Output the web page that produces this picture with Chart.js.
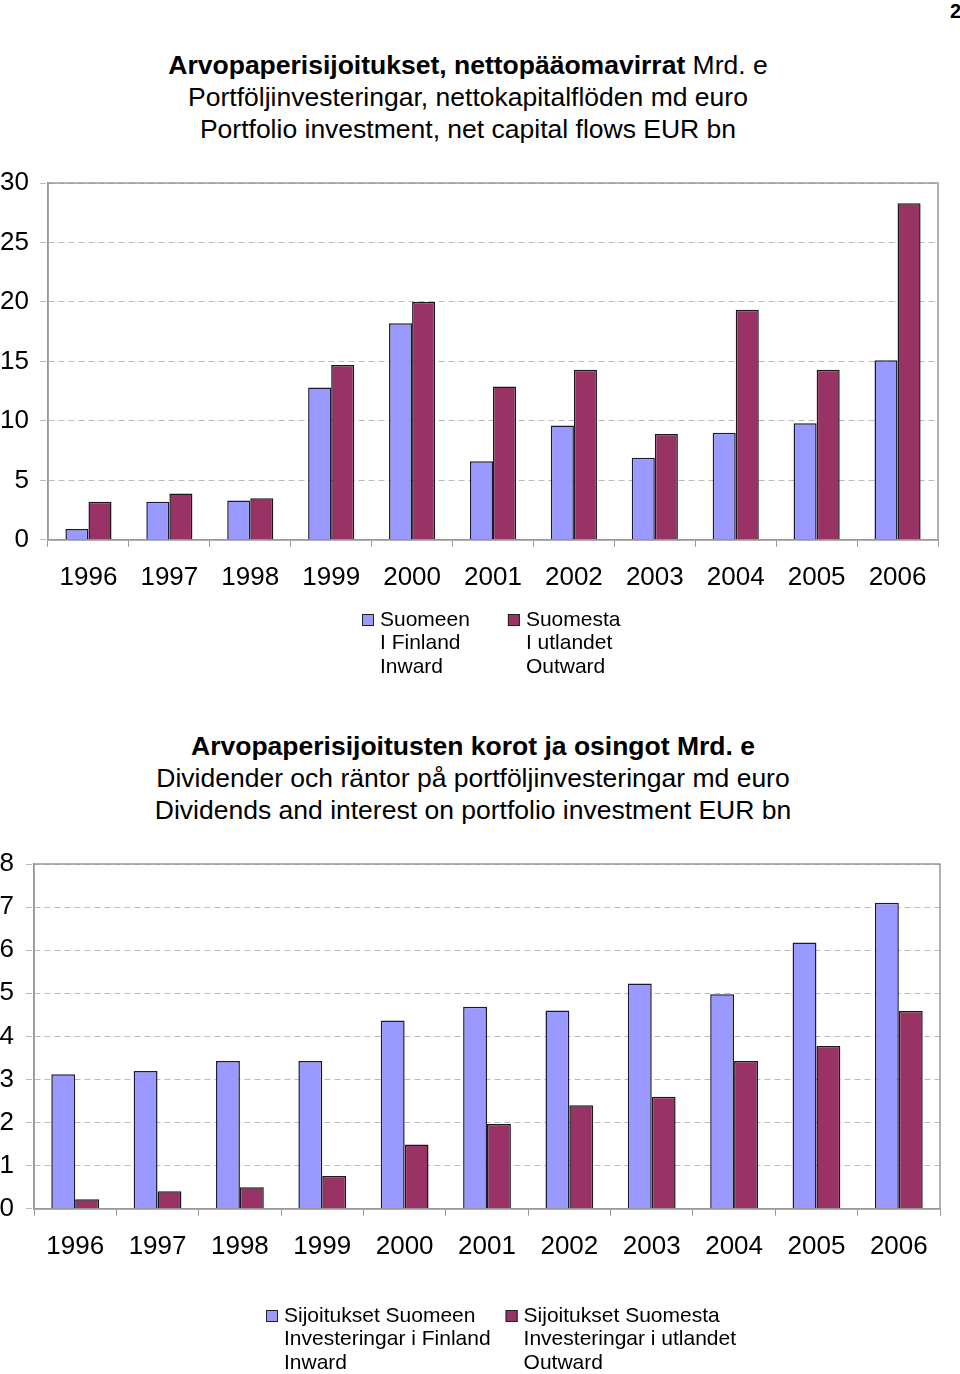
<!DOCTYPE html>
<html>
<head>
<meta charset="utf-8">
<script src="https://cdn.jsdelivr.net/npm/chart.js@4.4.0/dist/chart.umd.min.js"></script>
<style>
  body { margin: 0; background: #fff; width: 960px; height: 1374px; position: relative; overflow: hidden;
         font-family: "Liberation Sans", Arial, sans-serif; }
  .title { position: absolute; left: 0; text-align: center; font-size: 26.5px; line-height: 32px; color: #000; }
  .title b { font-weight: bold; }
  canvas { position: absolute; left: 0; }
  #pageNo { position: absolute; left: 950px; top: 0; font-size: 20px; font-weight: bold; }
</style>
</head>
<body>
<div id="pageNo">2</div>
<div class="title" style="top:49px; width:936px;">
  <b>Arvopaperisijoitukset, nettopääomavirrat</b> Mrd. e<br>
  Portföljinvesteringar, nettokapitalflöden md euro<br>
  Portfolio investment, net capital flows EUR bn
</div>
<canvas id="flowsChart" width="960" height="545" style="top:150px"></canvas>

<div class="title" style="top:730px; width:946px;">
  <b>Arvopaperisijoitusten korot ja osingot Mrd. e</b><br>
  Dividender och räntor på portföljinvesteringar md euro<br>
  Dividends and interest on portfolio investment EUR bn
</div>
<canvas id="incomeChart" width="960" height="544" style="top:830px"></canvas>

<script>
// --- data ---
const years = ['1996', '1997', '1998', '1999', '2000', '2001', '2002', '2003', '2004', '2005', '2006'];

// chart 1: net capital flows, EUR bn
const flowsInward  = [0.9, 3.2, 3.3, 12.8, 18.2, 6.6, 9.6, 6.9, 9.0, 9.8, 15.1];
const flowsOutward = [3.2, 3.9, 3.5, 14.7, 20.0, 12.9, 14.3, 8.9, 19.35, 14.3, 28.3];
const flowsLegend  = [['Suomeen', 'I Finland', 'Inward'], ['Suomesta', 'I utlandet', 'Outward']];

// chart 2: dividends and interest, EUR bn
const incomeInward  = [3.12, 3.2, 3.43, 3.43, 4.37, 4.69, 4.6, 5.23, 4.98, 6.18, 7.1];
const incomeOutward = [0.22, 0.41, 0.5, 0.76, 1.49, 1.97, 2.4, 2.6, 3.43, 3.78, 4.59];
const incomeLegend  = [['Sijoitukset Suomeen', 'Investeringar i Finland', 'Inward'],
                       ['Sijoitukset Suomesta', 'Investeringar i utlandet', 'Outward']];

const IN_COLOR = '#9999FF';
const OUT_COLOR = '#993366';
const FONT = '"Liberation Sans", Arial, sans-serif';

// plot frame (top + right edges, excel style)
const frameBox = {
  id: 'frameBox',
  beforeDatasetsDraw(chart) {
    const { ctx, chartArea: a } = chart;
    ctx.save();
    ctx.strokeStyle = '#999';
    ctx.lineWidth = 1.5;
    ctx.strokeRect(a.left, a.top, a.right - a.left, a.bottom - a.top);
    ctx.restore();
  }
};

// multi-line legend, excel style: box next to first line, lines stacked under it
const stackedLegend = {
  id: 'stackedLegend',
  afterDraw(chart, args, o) {
    const { ctx } = chart;
    ctx.save();
    ctx.font = `21px ${FONT}`;
    ctx.textBaseline = 'middle';
    let x = o.left;
    chart.data.datasets.forEach((ds, i) => {
      const lines = o.items[i];
      ctx.fillStyle = ds.backgroundColor;
      ctx.fillRect(x, o.top - 6, 12, 12);
      ctx.strokeStyle = '#222';
      ctx.lineWidth = 1;
      ctx.strokeRect(x + 0.5, o.top - 5.5, 11, 11);
      ctx.fillStyle = '#000';
      let w = 0;
      lines.forEach((t, j) => {
        ctx.fillText(t, x + 18, o.top + j * o.lineHeight);
        w = Math.max(w, ctx.measureText(t).width);
      });
      x += 18 + w + o.gap;
    });
    ctx.restore();
  }
};

function makeChart(id, inData, outData, legendText, opts) {
  return new Chart(document.getElementById(id), {
    type: 'bar',
    data: {
      labels: years,
      datasets: [
        { label: legendText[0].join(' '), data: inData, backgroundColor: IN_COLOR,
          borderColor: '#1a1a33', borderWidth: 1.5 },
        { label: legendText[1].join(' '), data: outData, backgroundColor: OUT_COLOR,
          borderColor: '#1a1a1a', borderWidth: 1.5 }
      ]
    },
    options: {
      responsive: false,
      animation: false,
      layout: { padding: opts.padding },
      datasets: { bar: { categoryPercentage: opts.catPct, barPercentage: 1 } },
      scales: {
        x: {
          grid: { offset: true, drawOnChartArea: false, tickLength: 7, color: '#999' },
          border: { color: '#999', width: 1.5 },
          ticks: { color: '#000', font: { family: FONT, size: 26 }, padding: 15, maxRotation: 0 }
        },
        y: {
          min: 0, max: opts.yMax,
          afterFit: s => { s.width = opts.yWidth; },
          ticks: { stepSize: opts.step, color: '#000', font: { family: FONT, size: 26 }, padding: opts.tickPad },
          grid: { color: '#bbb', tickLength: 8, tickBorderDash: [6, 4] },
          border: { color: '#999', width: 1.5, dash: [6, 4] }
        }
      },
      plugins: {
        tooltip: { enabled: false },
        legend: { display: false },
        stackedLegend: { items: legendText, ...opts.legend, lineHeight: 23.5 }
      }
    },
    plugins: [frameBox, stackedLegend]
  });
}

makeChart('flowsChart', flowsInward, flowsOutward, flowsLegend,
  { yMax: 30, step: 5, yWidth: 48, tickPad: 11, catPct: 0.57,
    legend: { left: 362, top: 470, gap: 38 },
    padding: { top: 33, right: 22, left: 0, bottom: 87 } });

makeChart('incomeChart', incomeInward, incomeOutward, incomeLegend,
  { yMax: 8, step: 1, yWidth: 34, tickPad: 12, catPct: 0.58,
    legend: { left: 266, top: 486, gap: 15 },
    padding: { top: 34, right: 20, left: 0, bottom: 97 } });
</script>
</body>
</html>
